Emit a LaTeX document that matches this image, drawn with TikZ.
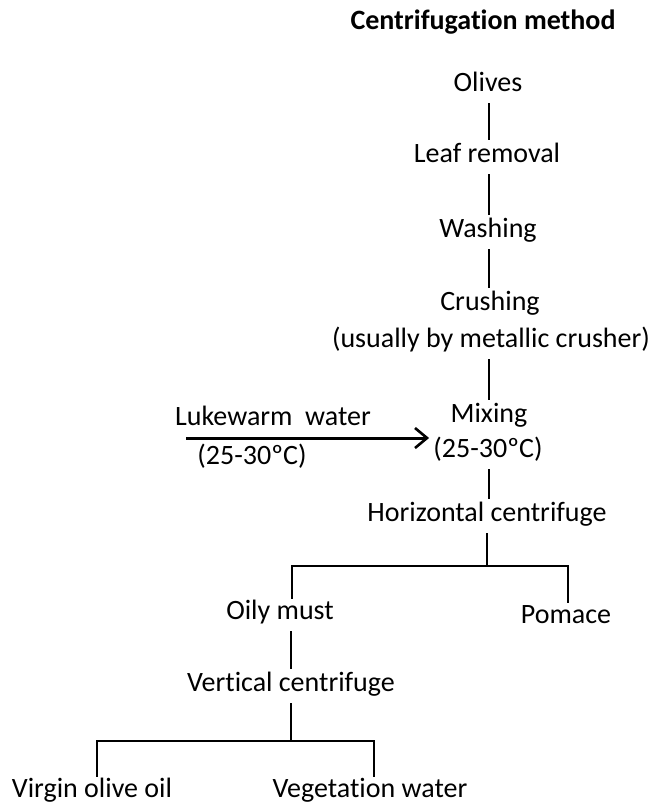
\documentclass[tikz,border=0pt]{standalone}
\usepackage{fontspec}
\setmainfont{Carlito}[RawFeature={-liga;-clig;-dlig;-calt}]
\usetikzlibrary{arrows.meta}
\tikzset{
	stage/.style={inner sep=0pt, text height=10pt, text depth=3pt, font=\fontsize{14}{17}\selectfont},
	link/.style={line width=1.1pt, shorten <=3pt, shorten >=1pt},
	bar/.style={line width=1.1pt}
}

\begin{document}
\begin{tikzpicture}[x=0.5pt, y=-0.5pt]
	\useasboundingbox (0,0) rectangle (654,805);

	% title
	\node[stage, font=\fontsize{14}{17}\selectfont\bfseries] (title) at (483,22) {Centrifugation method};

	% main line
	\node[stage] (olives) at (488,84) {Olives};
	\node[stage] (leaf) at (487,155) {Leaf removal};
	\node[stage] (washing) at (488,230) {Washing};
	\node[stage] (crushing) at (490,303) {Crushing};
	\node[stage] (crushnote) at (491,340) {(usually by metallic crusher)};
	\node[stage] (mixing) at (489,415) {Mixing};
	\node[stage] (mixtemp) at (488,450) {(25-30ºC)};
	\node[stage] (hcent) at (487,514) {Horizontal centrifuge};

	% water input
	\node[stage] (lukewarm) at (273,418) {Lukewarm\ \ water};
	\node[stage] (lukewarmtemp) at (252,457) {(25-30ºC)};
	\coordinate (water) at (186,438);

	% products
	\node[stage] (oily) at (280,612) {Oily must};
	\node[stage] (pomace) at (566,616) {Pomace};
	\node[stage] (vcent) at (291,684) {Vertical centrifuge};
	\node[stage] (virgin) at (92,790) {Virgin olive oil};
	\node[stage] (vegwater) at (370,790) {Vegetation water};

	\coordinate (trunk) at (489,0);
	\coordinate (hbarL) at (292,566);
	\coordinate (hbarR) at (568,566);
	\coordinate (vbarL) at (97,741);
	\coordinate (vbarR) at (374,741);

	% links
	\draw[link] (trunk |- olives.south) -- (trunk |- leaf.north);
	\draw[link] (trunk |- leaf.south) -- (trunk |- washing.north);
	\draw[link] (trunk |- washing.south) -- (trunk |- crushing.north);
	\draw[link] (trunk |- crushnote.south) -- (trunk |- mixing.north);
	\draw[link] (trunk |- mixtemp.south) -- (trunk |- hcent.north);
	\draw[link] (vcent |- oily.south) -- (vcent.north);

	\draw[line width=1.5pt, -{Straight Barb[length=6pt, width=10pt, line width=1.3pt]}, shorten >=2pt] (water) -- (water -| mixtemp.west);

	% splits
	\draw[bar, shorten <=3pt] (hcent.south) -- (hcent.south |- hbarL);
	\draw[bar] (hbarL |- oily.north) -- (hbarL) -- (hbarR) -- (hbarR |- pomace.north);
	\draw[bar, shorten <=3pt] (vcent.south) -- (vcent.south |- vbarL);
	\draw[bar] (vbarL |- virgin.north) -- (vbarL) -- (vbarR) -- (vbarR |- vegwater.north);
\end{tikzpicture}
\end{document}
